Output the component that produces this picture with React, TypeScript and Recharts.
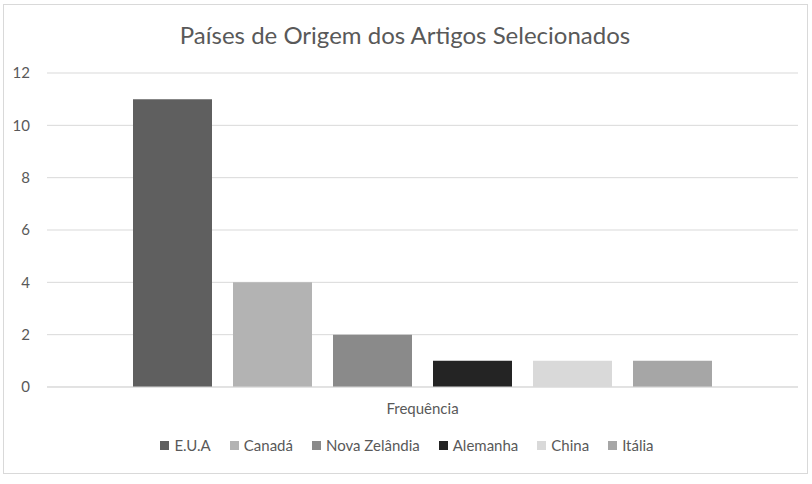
import React from 'react';
import { BarChart, Bar, XAxis, YAxis, CartesianGrid } from 'recharts';

const chartTitle = 'Países de Origem dos Artigos Selecionados';
const categories = ['Frequência'];
const seriesNames = ['E.U.A', 'Canadá', 'Nova Zelândia', 'Alemanha', 'China', 'Itália'];
const seriesValues = [11, 4, 2, 1, 1, 1];
const seriesColors = ['#5f5f5f', '#b3b3b3', '#8a8a8a', '#242424', '#d9d9d9', '#a6a6a6'];
const yTicks = [0, 2, 4, 6, 8, 10, 12];

const data = categories.map((c) => {
  const row: Record<string, string | number> = { category: c };
  seriesNames.forEach((_, i) => {
    row['s' + i] = seriesValues[i];
  });
  return row;
});

const FONT = 'Lato, "Open Sans", sans-serif';
const TEXT = '#595959';
const GRID = '#d9d9d9';

export default function App() {
  return (
    <div style={{ position: 'absolute', left: 0, top: 0, width: 812, height: 484, background: '#fff', fontFamily: FONT }}>
      <div
        style={{
          position: 'absolute',
          left: 3,
          top: 4,
          width: 803,
          height: 468,
          border: '1px solid ' + GRID,
        }}
      />
      <div
        style={{
          position: 'absolute',
          left: 3,
          width: 804,
          top: 18,
          height: 34,
          lineHeight: '34px',
          textAlign: 'center',
          fontSize: 24,
          color: TEXT,
        }}
      >
        {chartTitle}
      </div>
      <div style={{ position: 'absolute', left: 0, top: 0 }}>
        <BarChart
          width={812}
          height={484}
          data={data}
          margin={{ top: 73, right: 14, left: 7, bottom: 67 }}
          barSize={79}
          barGap={21}
          style={{ fontFamily: FONT }}
        >
          <CartesianGrid vertical={false} stroke={GRID} strokeWidth={1} />
          <XAxis
            dataKey="category"
            axisLine={{ stroke: GRID }}
            tickLine={false}
            tickSize={0}
            tickMargin={16}
            height={30}
            tick={{ fill: TEXT, fontSize: 15, fontFamily: FONT }}
          />
          <YAxis
            domain={[0, 12]}
            ticks={yTicks}
            interval={0}
            axisLine={false}
            tickLine={false}
            tickSize={0}
            tickMargin={17}
            width={40}
            tick={{ fill: TEXT, fontSize: 15, fontFamily: FONT }}
          />
          {seriesNames.map((name, i) => (
            <Bar key={name} dataKey={'s' + i} name={name} fill={seriesColors[i]} isAnimationActive={false} />
          ))}
        </BarChart>
      </div>
      <div
        style={{
          position: 'absolute',
          left: 3,
          width: 808,
          top: 436,
          height: 18,
          display: 'flex',
          justifyContent: 'center',
          alignItems: 'center',
          fontSize: 15,
          color: TEXT,
        }}
      >
        {seriesNames.map((name, i) => (
          <div key={name} style={{ display: 'flex', alignItems: 'center', marginRight: i < seriesNames.length - 1 ? 19 : 0 }}>
            <span style={{ display: 'inline-block', width: 9, height: 9, background: seriesColors[i], marginRight: 5 }} />
            <span style={{ whiteSpace: 'nowrap' }}>{name}</span>
          </div>
        ))}
      </div>
    </div>
  );
}
